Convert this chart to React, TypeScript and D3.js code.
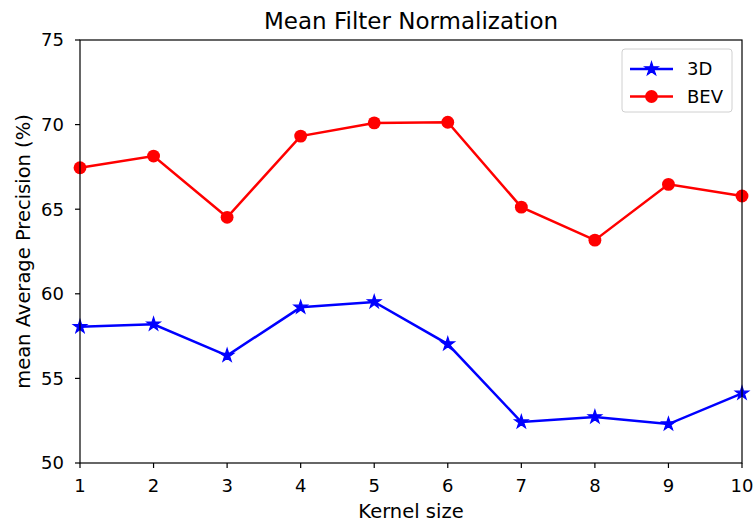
import React from "react";
import * as d3 from "d3";

const kernelSizes = [1, 2, 3, 4, 5, 6, 7, 8, 9, 10];
const map3D = [58.05, 58.2, 56.35, 59.2, 59.52, 57.03, 52.42, 52.72, 52.3, 54.12];
const mapBEV = [67.45, 68.14, 64.52, 69.32, 70.1, 70.14, 65.12, 63.17, 66.47, 65.78];
const yTicks = [50, 55, 60, 65, 70, 75];

const series = [
	{ name: "3D", values: map3D, color: "#0000ff", marker: "star" },
	{ name: "BEV", values: mapBEV, color: "#ff0000", marker: "circle" },
];

const W = 754;
const H = 525;
const margin = { top: 40, right: 12, bottom: 62, left: 80 };
const font = "DejaVu Sans, sans-serif";

const App = () => {
	const width = W - margin.left - margin.right;
	const height = H - margin.top - margin.bottom;

	const x = d3.scaleLinear().domain([1, 10]).range([0, width]);
	const y = d3.scaleLinear().domain([50, 75]).range([height, 0]);

	const line = d3
		.line<number>()
		.x((d, i) => x(kernelSizes[i]))
		.y((d) => y(d));

	const star = d3.symbol().type(d3.symbolStar).size(55)();
	const circle = d3.symbol().type(d3.symbolCircle).size(130)();

	const marker = (kind: string, color: string, cx: number, cy: number, key: any) =>
		kind === "star" ? (
			<path key={key} d={star as string} transform={`translate(${cx},${cy})`} fill={color} stroke={color} strokeWidth={1.2} />
		) : (
			<path key={key} d={circle as string} transform={`translate(${cx},${cy})`} fill={color} />
		);

	return (
		<svg width={W} height={H} style={{ position: "absolute", left: 0, top: 0, background: "#fff" }}>
			<text x={margin.left + width / 2} y={29} textAnchor="middle" fontFamily={font} fontSize={23}>
				Mean Filter Normalization
			</text>
			<g transform={`translate(${margin.left},${margin.top})`}>
				{series.map((s) => (
					<g key={s.name}>
						<path d={line(s.values) as string} fill="none" stroke={s.color} strokeWidth={2.5} />
						{s.values.map((v, i) => marker(s.marker, s.color, x(kernelSizes[i]), y(v), i))}
					</g>
				))}
				<rect x={0} y={0} width={width} height={height} fill="none" stroke="#000" strokeWidth={1.2} />
				{kernelSizes.map((k) => (
					<g key={k} transform={`translate(${x(k)},${height})`}>
						<line y2={5} stroke="#000" strokeWidth={1.2} />
						<text y={29} textAnchor="middle" fontFamily={font} fontSize={18}>
							{k}
						</text>
					</g>
				))}
				{yTicks.map((t) => (
					<g key={t} transform={`translate(0,${y(t)})`}>
						<line x2={-5} stroke="#000" strokeWidth={1.2} />
						<text x={-16} dy="0.36em" textAnchor="end" fontFamily={font} fontSize={18}>
							{t}
						</text>
					</g>
				))}
				<text x={width / 2} y={height + 55} textAnchor="middle" fontFamily={font} fontSize={19.5}>
					Kernel size
				</text>
				<text
					transform={`translate(${-50},${height / 2}) rotate(-90)`}
					textAnchor="middle"
					fontFamily={font}
					fontSize={19.5}
				>
					mean Average Precision (%)
				</text>
				{/* legend */}
				<g transform={`translate(${542},${9})`}>
					<rect x={0} y={0} width={110} height={63} rx={3} fill="#fff" fillOpacity={0.8} stroke="#d0d0d0" strokeWidth={1} />
					{series.map((s, i) => (
						<g key={s.name} transform={`translate(0,${20 + i * 27.5})`}>
							<line x1={8} x2={51} stroke={s.color} strokeWidth={2.5} />
							{marker(s.marker, s.color, 29.5, 0, "m")}
							<text x={65} dy="0.36em" fontFamily={font} fontSize={18}>
								{s.name}
							</text>
						</g>
					))}
				</g>
			</g>
		</svg>
	);
};

export default App;
